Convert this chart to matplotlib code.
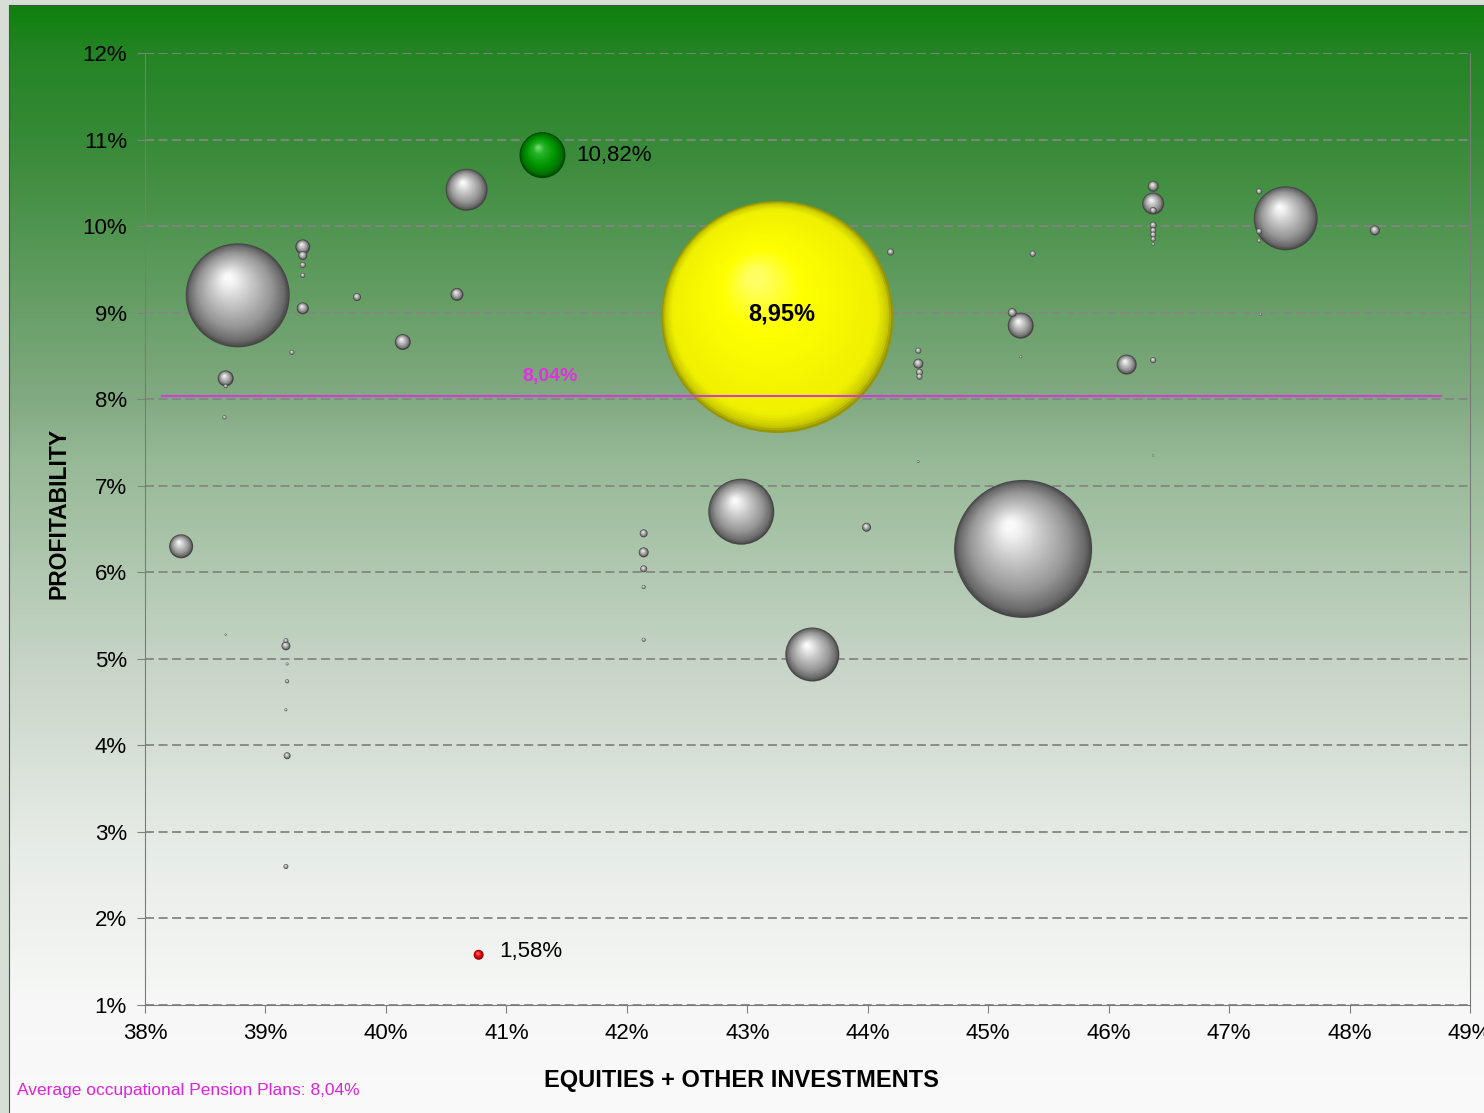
import numpy as np
import matplotlib.pyplot as plt

plt.rcParams['font.family'] = ['Liberation Sans', 'DejaVu Sans']

W, H = 1484, 1113

# grey bubbles: equities + other investments (%), profitability (%), plan assets (relative units)
equities = [38.77, 45.29, 47.47, 42.95, 43.54, 40.67, 38.30, 38.67, 45.27, 46.15,
            46.37, 46.37, 46.37, 46.37, 46.37, 46.37, 46.37, 46.37, 48.21, 47.25,
            47.25, 47.25, 47.26, 45.20, 45.27, 44.42, 44.42, 44.43, 44.43, 44.42,
            46.37, 46.37, 44.19, 45.37, 43.99, 42.14, 42.14, 42.14, 42.14, 42.14,
            40.59, 40.14, 39.76, 39.31, 39.31, 39.31, 39.31, 39.31, 39.22, 38.66,
            38.67, 39.17, 39.17, 39.18, 39.18, 39.17, 39.18, 39.17, 38.67]
profitability = [9.20, 6.27, 10.09, 6.70, 5.05, 10.42, 6.30, 8.24, 8.85, 8.40,
                 10.26, 10.46, 10.18, 10.01, 9.95, 9.90, 9.85, 9.79, 9.95, 10.40,
                 9.94, 9.83, 8.98, 9.00, 8.49, 8.56, 8.41, 8.31, 8.26, 7.28,
                 8.45, 7.35, 9.70, 9.68, 6.52, 6.45, 6.23, 6.04, 5.83, 5.22,
                 9.21, 8.66, 9.18, 9.76, 9.66, 9.55, 9.43, 9.05, 8.54, 7.79,
                 5.28, 5.15, 5.21, 4.94, 4.74, 4.41, 3.88, 2.60, 8.15]
assets = [2704, 4761, 1024, 1089, 729, 441, 144, 64, 169, 100,
          121, 30, 12, 12, 9, 9, 6, 2, 25, 9,
          9, 4, 1.5, 20, 2, 9, 25, 12, 9, 1.5,
          9, 1, 12, 9, 20, 16, 25, 12, 4, 4,
          42, 64, 16, 56, 20, 9, 6, 36, 6, 4,
          1, 20, 6, 2, 4, 2, 12, 6, 4]

# highlighted plans: the reference plan, the best and the worst
focus_equities = [43.25, 41.30, 40.77]
focus_profit = [8.95, 10.82, 1.58]
focus_assets = [13456, 529, 25]
focus_kind = ['yellow', 'green', 'red']
focus_labels = ['8,95%', '10,82%', '1,58%']

avg_profit = 8.04
avg_span = [38.14, 48.76]

x_ticks = list(range(38, 50))
y_ticks = list(range(1, 13))

RAMPS = {
    'grey': [(0, (70, 70, 70)), (0.08, (105, 105, 105)), (0.3, (150, 150, 150)),
             (0.65, (200, 200, 200)), (0.9, (238, 238, 238)), (1, (250, 250, 250))],
    'yellow': [(0, (150, 150, 0)), (0.04, (205, 205, 0)), (0.12, (240, 240, 0)),
               (0.7, (255, 255, 0)), (1, (255, 255, 100))],
    'green': [(0, (0, 70, 0)), (0.1, (0, 110, 0)), (0.4, (0, 150, 0)),
              (0.8, (40, 180, 40)), (1, (110, 215, 110))],
    'red': [(0, (150, 0, 0)), (0.3, (220, 0, 0)), (1, (255, 120, 120))],
}


def ramp(stops, t):
    ts = [s[0] for s in stops]
    return tuple(np.interp(t, ts, [s[1][k] for s in stops]) / 255 for k in range(3))


fig = plt.figure(figsize=(W / 100, H / 100), dpi=100)
fig.patch.set_facecolor('#d6ded6')

# background panel with green-to-white gradient
bg = fig.add_axes([9 / W, 0, 1 - 9 / W, 1 - 5 / H])
rows = np.arange(5, H)
ys = [5, 53, 140, 400, 460, 660, 850, 1000, H]
cs = [(14, 128, 14), (36, 132, 36), (55, 138, 55), (130, 170, 130), (150, 185, 150),
      (198, 212, 198), (232, 236, 232), (246, 247, 246), (250, 250, 250)]
grad = np.stack([np.interp(rows, ys, [c[k] for c in cs]) for k in range(3)], axis=-1) / 255
grad = np.repeat(grad[:, None, :], 4, axis=1)
bg.imshow(grad, aspect='auto', extent=[0, 1, 0, 1], origin='upper', interpolation='bilinear')
bg.set_xticks([])
bg.set_yticks([])
for side in ['right', 'bottom']:
    bg.spines[side].set_visible(False)
for side in ['left', 'top']:
    bg.spines[side].set_color('#3d5a3d')

ax = fig.add_axes([145 / W, 1 - 1005 / H, 1325 / W, 952 / H])
ax.patch.set_visible(False)
ax.set_xlim(38, 49)
ax.set_ylim(1, 12)
ax.set_xticks(x_ticks)
ax.set_yticks(y_ticks)
ax.set_xticklabels(['{}%'.format(v) for v in x_ticks])
ax.set_yticklabels(['{}%'.format(v) for v in y_ticks])
ax.tick_params(labelsize=16, length=6, color='#808080', pad=7)
for side in ['left', 'bottom', 'right']:
    ax.spines[side].set_color('#7a7a7a')
ax.spines['top'].set_visible(False)
ax.grid(axis='y', color='#858585', linestyle=(0, (5, 2.5)), linewidth=1.3)
ax.set_axisbelow(True)

# build all sphere layers, biggest bubble first so small ones sit on top
bubbles = [(x, y, a, 'grey') for x, y, a in zip(equities, profitability, assets)]
bubbles += list(zip(focus_equities, focus_profit, focus_assets, focus_kind))
bubbles.sort(key=lambda b: -b[2])

inv = ax.transData.inverted()
px, py, sz, col = [], [], [], []
for x, y, a, kind in bubbles:
    r = np.sqrt(a)
    cx, cy = ax.transData.transform((x, y))
    n = int(np.clip(r * 0.9, 6, 60))
    t = np.linspace(0, 1, n)
    f = 1 - 0.93 * t
    pts = inv.transform(np.column_stack([cx - 0.2 * r * (1 - f), cy + 0.36 * r * (1 - f)]))
    px.extend(pts[:, 0])
    py.extend(pts[:, 1])
    sz.extend((2 * r * f * 72 / fig.dpi) ** 2)
    col.extend(ramp(RAMPS[kind], ti) for ti in t)

ax.scatter(px, py, s=sz, c=col, linewidths=0, zorder=3)

# average line
ax.plot(avg_span, [avg_profit, avg_profit], color='#d040d0', linewidth=1.5, zorder=4)
ax.annotate('8,04%', (41.36, avg_profit), xytext=(0, 14), textcoords='offset points',
            ha='center', va='center', fontsize=14, fontweight='bold', color='#e030e0', zorder=5)

# labels for highlighted plans
ax.annotate(focus_labels[0], (focus_equities[0], focus_profit[0]), xytext=(3.5, 2),
            textcoords='offset points', ha='center', va='center', fontsize=17,
            fontweight='bold', zorder=5)
ax.annotate(focus_labels[1], (focus_equities[1], focus_profit[1]), xytext=(24.5, 0),
            textcoords='offset points', ha='left', va='center', fontsize=16, zorder=5)
ax.annotate(focus_labels[2], (focus_equities[2], focus_profit[2]), xytext=(14.5, 2.5),
            textcoords='offset points', ha='left', va='center', fontsize=16, zorder=5)

ax.set_ylabel('PROFITABILITY', fontsize=16.5, fontweight='bold')
ax.yaxis.set_label_coords((59 - 145) / 1325, (1005 - 513) / 952)
ax.yaxis.label.set_va('center')
ax.set_xlabel('EQUITIES + OTHER INVESTMENTS', fontsize=17, fontweight='bold')
ax.xaxis.set_label_coords((741 - 145) / 1325, (1005 - 1081) / 952)
ax.xaxis.label.set_va('center')

fig.text(17 / W, 1 - 1090 / H, 'Average occupational Pension Plans: 8,04%',
         fontsize=12.5, color='#dd22dd', ha='left', va='center')

fig.savefig('out.png', dpi=100)
